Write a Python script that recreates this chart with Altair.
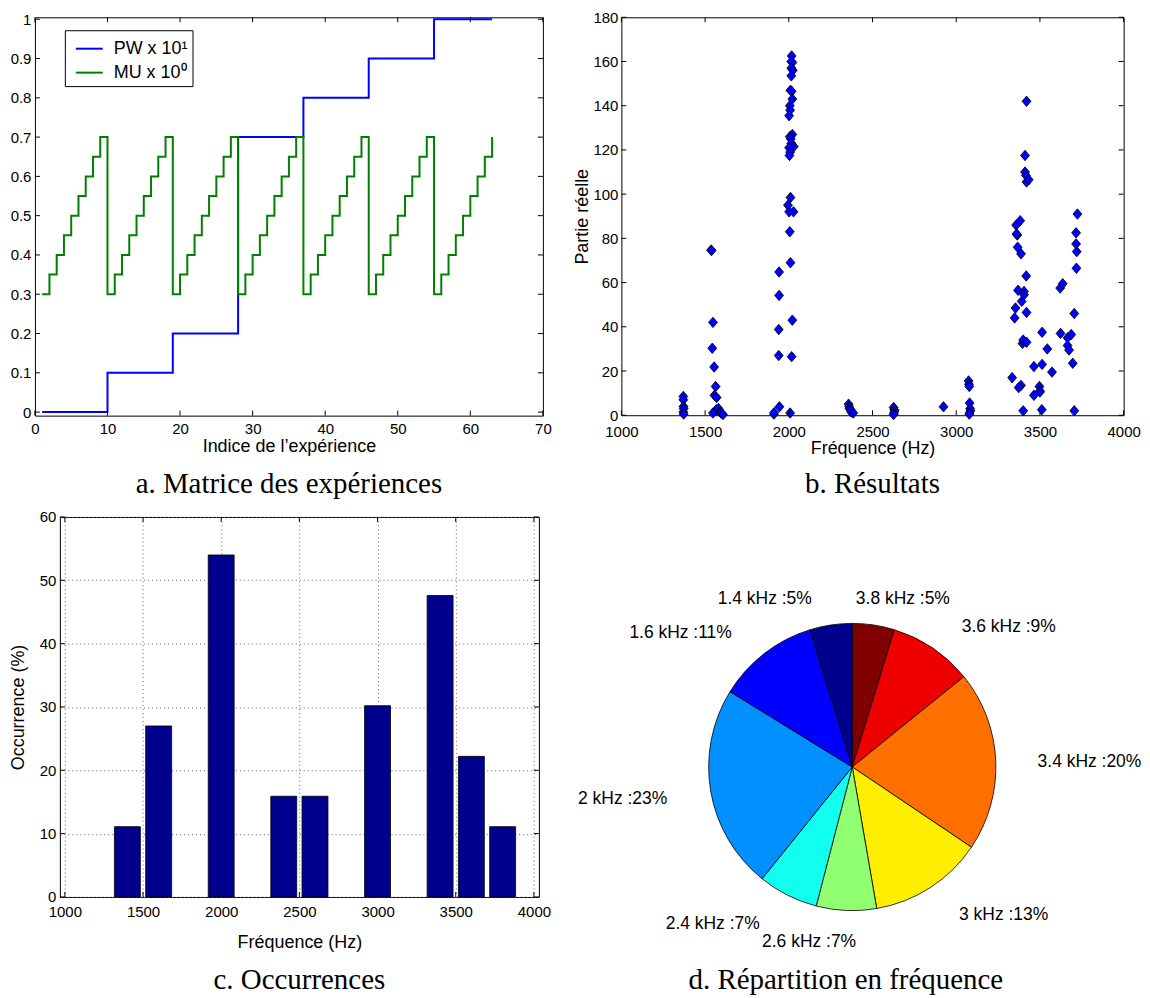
import altair as alt
import pandas as pd

SANS = "Liberation Sans"
SERIF = "Liberation Serif"

# ---------------- a. Matrice des expériences ----------------
experiment = list(range(1, 64))
pw_x10 = [0, 0, 0, 0, 0, 0, 0, 0, 0,
          0.1, 0.1, 0.1, 0.1, 0.1, 0.1, 0.1, 0.1, 0.1,
          0.2, 0.2, 0.2, 0.2, 0.2, 0.2, 0.2, 0.2, 0.2,
          0.7, 0.7, 0.7, 0.7, 0.7, 0.7, 0.7, 0.7, 0.7,
          0.8, 0.8, 0.8, 0.8, 0.8, 0.8, 0.8, 0.8, 0.8,
          0.9, 0.9, 0.9, 0.9, 0.9, 0.9, 0.9, 0.9, 0.9,
          1, 1, 1, 1, 1, 1, 1, 1, 1]
mu_x1 = [0.3, 0.35, 0.4, 0.45, 0.5, 0.55, 0.6, 0.65, 0.7,
         0.3, 0.35, 0.4, 0.45, 0.5, 0.55, 0.6, 0.65, 0.7,
         0.3, 0.35, 0.4, 0.45, 0.5, 0.55, 0.6, 0.65, 0.7,
         0.3, 0.35, 0.4, 0.45, 0.5, 0.55, 0.6, 0.65, 0.7,
         0.3, 0.35, 0.4, 0.45, 0.5, 0.55, 0.6, 0.65, 0.7,
         0.3, 0.35, 0.4, 0.45, 0.5, 0.55, 0.6, 0.65, 0.7,
         0.3, 0.35, 0.4, 0.45, 0.5, 0.55, 0.6, 0.65, 0.7]
series_names = ["PW x 10¹", "MU x 10⁰"]
series_colors = ["#0000FF", "#008000"]
a_xticks = [0, 10, 20, 30, 40, 50, 60, 70]
a_yticks = [0, 0.1, 0.2, 0.3, 0.4, 0.5, 0.6, 0.7, 0.8, 0.9, 1]

# ---------------- b. Résultats ----------------
b_freq = [1370, 1370, 1371, 1372, 1370, 1372,
          1536, 1539, 1547, 1543, 1554, 1563, 1556, 1569, 1567, 1547, 1580, 1589, 1596, 1607,
          1911, 1913, 1942, 1942, 1940, 1940, 1944,
          2017, 2015, 2021, 2015, 2024, 2015, 2010, 2017, 2021, 2006, 2008, 2002, 2021, 2006,
          2012, 2015, 2030, 2002, 2008, 2004, 2010, 1995, 2002, 2028, 2006, 2010, 2021, 2017, 2008,
          2357, 2360, 2363, 2368, 2372, 2385,
          2626, 2630, 2632, 2628, 2626,
          2924,
          3074, 3076, 3078, 3080, 3083, 3085, 3080, 3078,
          3334, 3349, 3354, 3358, 3365, 3360, 3367, 3369, 3382, 3387, 3391, 3387, 3373, 3396,
          3400, 3405, 3405, 3418, 3420, 3420, 3400, 3420, 3411, 3411, 3416, 3420, 3433, 3464,
          3464, 3497, 3500, 3500, 3513, 3513, 3511, 3544, 3572, 3621, 3636, 3623, 3665, 3665,
          3674, 3687, 3696, 3705, 3705, 3720, 3716, 3716, 3718, 3724]
b_real = [8.5, 7, 4, 3, 1.5, 0.5,
          74.7, 74.5, 42, 30.3, 21.8, 13, 9, 8, 2.5, 1, 3, 1.5, 1, 0.3,
          0.5, 1.2, 64.8, 54.2, 38.8, 27, 3.8,
          162.5, 160, 159.5, 157, 156, 153.5, 147, 146.5, 143, 140, 138, 135.5, 127, 126,
          125, 123, 121.5, 121, 119, 117.5, 98.5, 95, 92, 92, 83, 69, 43, 26.5, 1,
          5, 4, 3, 2.5, 1.5, 1,
          3.5, 2.5, 2, 1, 0.3,
          3.8,
          15.5, 14, 13, 5.5, 3, 2, 1, 0.5,
          17, 44, 48.5, 86, 81.5, 82, 76, 56.5, 88, 73, 51.5, 13.5, 12.5, 32.5,
          34, 56, 54.5, 63, 46.5, 33, 2, 142, 117.5, 110, 108.5, 105.5, 106.5, 22,
          9, 13, 11, 10.5, 37.5, 23, 2.5, 30, 19.5, 57.5, 59.5, 37, 35, 31.5,
          29.5, 36.5, 23.5, 46, 2, 74, 77.5, 82.5, 66.5, 91]
assert len(b_freq) == len(b_real)
freq_ticks = [1000, 1500, 2000, 2500, 3000, 3500, 4000]
b_yticks = [0, 20, 40, 60, 80, 100, 120, 140, 160, 180]

# ---------------- c. Occurrences ----------------
c_freq = [1400, 1600, 2000, 2400, 2600, 3000, 3400, 3600, 3800]
c_occ = [11.1, 27.0, 54.0, 15.9, 15.9, 30.2, 47.6, 22.2, 11.1]
c_yticks = [0, 10, 20, 30, 40, 50, 60]

# ---------------- d. Répartition en fréquence ----------------
d_labels = ["3.8 kHz :5%", "3.6 kHz :9%", "3.4 kHz :20%", "3 kHz :13%", "2.6 kHz :7%",
            "2.4 kHz :7%", "2 kHz :23%", "1.6 kHz :11%", "1.4 kHz :5%"]
d_values = c_occ[::-1]
d_colors = ["#800000", "#EE0000", "#FF7000", "#FFEE00", "#90FF70",
            "#10FFEE", "#0090FF", "#0000FF", "#00008F"]

# ---------------- layout ----------------
W_A, H_A = 509.3, 399.4
W_B, H_B = 503.6, 399.0
W_C, H_C = 480.3, 381.0
W_D, H_D = 590.0, 381.0
LEAD_A, GAP_AB = 26.7, 77.7
LEAD_C = 51.2
V_SP = 9
PIE_R = 144
PIE_CX, PIE_CY = 313.5, 250.7
LAB_R = 173


def ax(values, title, fmt, label_pad, title_pad=0, grid=False):
    kw = dict(values=values, format=fmt, labelPadding=label_pad, grid=grid, domain=False,
              ticks=False, labelFlush=False, labelOverlap=False, labelFont=SANS,
              labelFontSize=15, labelColor="black")
    if title:
        kw.update(title=title, titlePadding=title_pad, titleFont=SANS, titleFontSize=18,
                  titleFontWeight="normal", titleColor="black")
    else:
        kw["title"] = None
    if grid:
        kw.update(gridDash=[1, 3], gridColor="#606060", gridWidth=1)
    return alt.Axis(**kw)


def inner_ticks(xvals, yvals, xs, ys, xax, yax, W, H, L=5):
    tx = pd.DataFrame({"t": xvals})
    ty = pd.DataFrame({"t": yvals})
    out = []
    for y0, y1 in ((H, H - L), (0, L)):
        out.append(alt.Chart(tx).mark_rule(color="black", strokeWidth=1).encode(
            x=alt.X("t:Q", scale=xs, axis=xax), y=alt.value(y0), y2=alt.value(y1)))
    for x0, x1 in ((0, L), (W, W - L)):
        out.append(alt.Chart(ty).mark_rule(color="black", strokeWidth=1).encode(
            y=alt.Y("t:Q", scale=ys, axis=yax), x=alt.value(x0), x2=alt.value(x1)))
    return out


def caption(text, offset, dx=0):
    return alt.TitleParams(text=text, orient="bottom", anchor="middle", font=SERIF,
                           fontSize=29, fontWeight="normal", color="black",
                           offset=offset, dx=dx)


def spacer(w, h):
    return alt.Chart(pd.DataFrame({"z": [0]})).mark_text(text="").encode(
        x=alt.value(0), y=alt.value(0)).properties(
        width=w, height=h, view=alt.ViewBackground(strokeOpacity=0))


# ---- panel a
df_a = pd.DataFrame({"i": experiment + experiment, "v": pw_x10 + mu_x1,
                     "s": [series_names[0]] * len(pw_x10) + [series_names[1]] * len(mu_x1)})
sa_x = alt.Scale(domain=[0, 70], nice=False, zero=False)
sa_y = alt.Scale(domain=[-0.009, 1.005], nice=False, zero=False)
ax_ax = ax(a_xticks, "Indice de l’expérience", "d", 6, 1)
ax_ay = ax(a_yticks, None, "~g", 4)
lines_a = alt.Chart(df_a).mark_line(interpolate="step-after", strokeWidth=2).encode(
    x=alt.X("i:Q", scale=sa_x, axis=ax_ax),
    y=alt.Y("v:Q", scale=sa_y, axis=ax_ay),
    color=alt.Color("s:N", scale=alt.Scale(domain=series_names, range=series_colors),
                    legend=alt.Legend(title=None, orient="none", legendX=30, legendY=13,
                                      direction="vertical", fillColor="white",
                                      strokeColor="black", padding=4, symbolType="stroke",
                                      symbolSize=729, symbolStrokeWidth=2, symbolOffset=6,
                                      labelFont=SANS, labelFontSize=18, labelColor="black",
                                      labelOffset=10, rowPadding=0, labelLimit=300)),
)
panel_a = alt.layer(lines_a, *inner_ticks(a_xticks, a_yticks, sa_x, sa_y, ax_ax, ax_ay,
                                          W_A, H_A)).properties(
    width=W_A, height=H_A, title=caption("a. Matrice des expériences", 15))

# ---- panel b
df_b = pd.DataFrame({"f": b_freq, "r": b_real})
sb_x = alt.Scale(domain=[1000, 4000], nice=False, zero=False)
sb_y = alt.Scale(domain=[0, 180], nice=False, zero=False)
ax_bx = ax(freq_ticks, "Fréquence (Hz)", "d", 9, 0)
ax_by = ax(b_yticks, "Partie réelle", "d", 3.5, 1)
DIAMOND = "M0,-1L0.85,0L0,1L-0.85,0Z"
pts_b = alt.Chart(df_b).mark_point(shape=DIAMOND, filled=True, fill="#0000FF", stroke="black",
                                   strokeWidth=0.8, size=110, opacity=1).encode(
    x=alt.X("f:Q", scale=sb_x, axis=ax_bx),
    y=alt.Y("r:Q", scale=sb_y, axis=ax_by),
)
panel_b = alt.layer(pts_b, *inner_ticks(freq_ticks, b_yticks, sb_x, sb_y, ax_bx, ax_by,
                                        W_B, H_B)).properties(
    width=W_B, height=H_B, title=caption("b. Résultats", 13))

# ---- panel c
df_c = pd.DataFrame({"f": c_freq, "o": c_occ})
sc_x = alt.Scale(domain=[1000, 4000], nice=False, zero=False)
sc_y = alt.Scale(domain=[0, 60], nice=False, zero=False)
ax_cx = ax(freq_ticks, "Fréquence (Hz)", "d", 8, 14, grid=True)
ax_cy = ax(c_yticks, "Occurrence (%)", "d", 4, 12, grid=True)
bars_c = alt.Chart(df_c).mark_bar(size=26, fill="#00008F", stroke="black", strokeWidth=0.8).encode(
    x=alt.X("f:Q", scale=sc_x, axis=ax_cx),
    y=alt.Y("o:Q", scale=sc_y, axis=ax_cy),
)
panel_c = alt.layer(bars_c, *inner_ticks(freq_ticks, c_yticks, sc_x, sc_y, ax_cx, ax_cy,
                                         W_C, H_C)).properties(
    width=W_C, height=H_C, title=caption("c. Occurrences", 14))

# ---- panel d
df_d = pd.DataFrame({"lab": d_labels, "val": d_values, "k": list(range(len(d_labels)))})
arc_d = alt.Chart(df_d).mark_arc(radius=PIE_R, stroke="black", strokeWidth=0.8).encode(
    theta=alt.Theta("val:Q", stack=True),
    color=alt.Color("lab:N", scale=alt.Scale(domain=d_labels, range=d_colors), legend=None),
    order=alt.Order("k:Q"),
    x=alt.value(PIE_CX), y=alt.value(PIE_CY),
)
lab_base = alt.Chart(df_d).transform_joinaggregate(tot="sum(val)").transform_window(
    cum="sum(val)", sort=[alt.SortField("k", order="ascending")]).transform_calculate(
    mid="2*PI*(datum.cum - datum.val/2)/datum.tot",
    s="sin(2*PI*(datum.cum - datum.val/2)/datum.tot)")
lab_enc = dict(theta=alt.Theta("mid:Q", scale=None, stack=False), radius=alt.value(LAB_R),
               text="lab:N", x=alt.value(PIE_CX), y=alt.value(PIE_CY))
lab_style = dict(baseline="middle", dy=3, font=SANS, fontSize=17.5, color="black")
label_layers = [
    lab_base.transform_filter("datum.s >= 0.3").mark_text(
        align="left", dx=13, **lab_style).encode(**lab_enc),
    lab_base.transform_filter("datum.s >= 0 && datum.s < 0.3").mark_text(
        align="left", dx=-22, **lab_style).encode(**lab_enc),
    lab_base.transform_filter("datum.s < 0 && datum.s <= -0.1").mark_text(
        align="right", dx=-15, **lab_style).encode(**lab_enc),
    lab_base.transform_filter("datum.s < 0 && datum.s > -0.1").mark_text(
        align="right", dx=11, **lab_style).encode(**lab_enc),
]
panel_d = alt.layer(arc_d, *label_layers).properties(
    width=W_D, height=H_D, view=alt.ViewBackground(strokeOpacity=0),
    title=caption("d. Répartition en fréquence", 15, 12))

row1 = alt.hconcat(spacer(LEAD_A, H_A), panel_a, spacer(GAP_AB, H_A), panel_b,
                   spacing=0, bounds="flush").resolve_scale(color="independent")
row2 = alt.hconcat(spacer(LEAD_C, H_C), panel_c, panel_d, spacing=0,
                   bounds="flush").resolve_scale(color="independent")

chart = alt.vconcat(row1, row2, spacing=V_SP).resolve_scale(color="independent").properties(
    padding=0).configure_view(stroke="black", strokeWidth=1)

chart.save("out.html", embed_options={"renderer": "svg", "actions": False})
